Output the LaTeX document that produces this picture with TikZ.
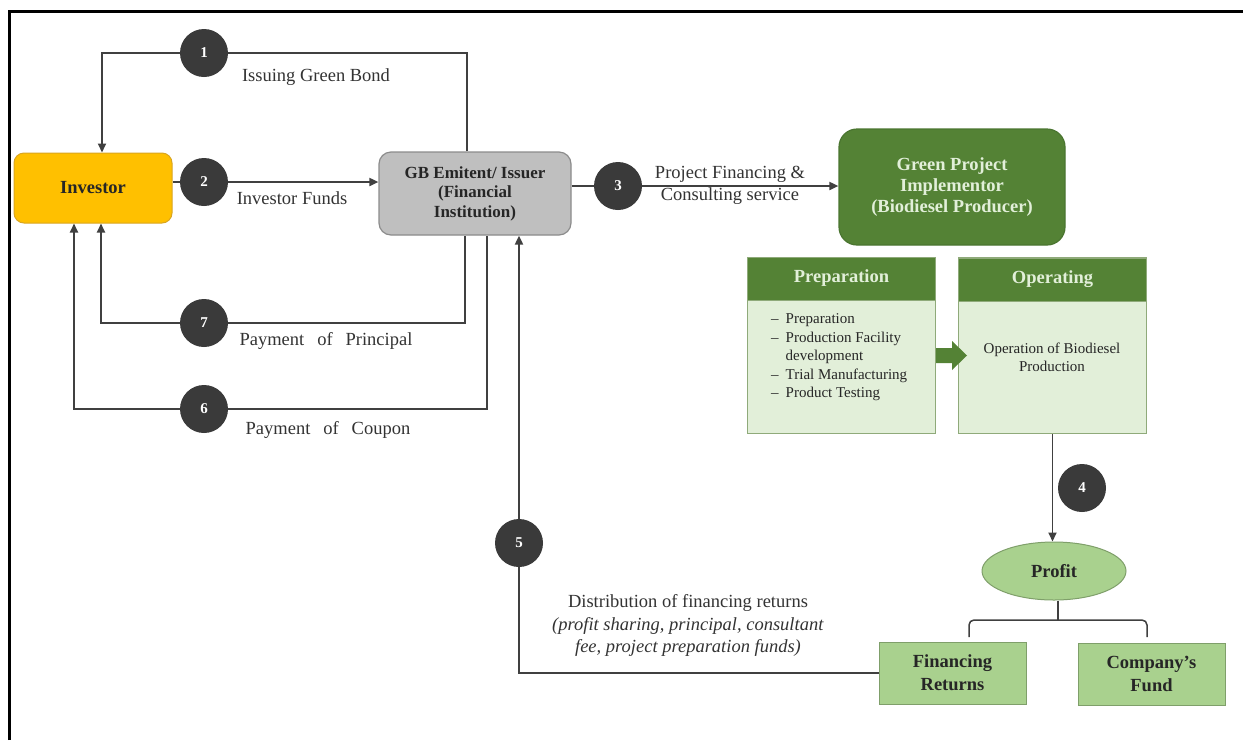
\documentclass[tikz,border=0pt]{standalone}
\usepackage{fontspec}
\setmainfont{Liberation Serif}
\usetikzlibrary{arrows.meta,backgrounds,calc,shapes.geometric}
\definecolor{gold}{HTML}{FFC000}
\definecolor{goldedge}{HTML}{D9A520}
\definecolor{issfill}{HTML}{BFBFBF}
\definecolor{issedge}{HTML}{8C8C8C}
\definecolor{dkgreen}{HTML}{548235}
\definecolor{dkgreenedge}{HTML}{4A7530}
\definecolor{ltgreen}{HTML}{E2EFD9}
\definecolor{ltgreenedge}{HTML}{8FAA7A}
\definecolor{midgreen}{HTML}{A9D18E}
\definecolor{midgreenedge}{HTML}{7F9F6A}
\definecolor{numgray}{HTML}{3A3A3A}
\definecolor{linegray}{HTML}{404040}
\definecolor{txtgray}{HTML}{333333}
\begin{document}
\begin{tikzpicture}[x=1pt,y=-1pt,
  lbl/.style={font=\fontsize{18.5}{22.5}\selectfont, text=txtgray, align=center, inner sep=0pt},
  num/.style={circle, fill=numgray, text=white, font=\bfseries\fontsize{15}{15}\selectfont, minimum size=48pt, inner sep=0pt},
  conn/.style={draw=linegray, line width=1.8pt},
  arr/.style={conn, -{Triangle[length=9pt,width=8pt]}},
  invbox/.style={rectangle, rounded corners=10pt, fill=gold, draw=goldedge, line width=1pt, minimum width=158pt, minimum height=70pt, inner sep=0pt, font=\bfseries\fontsize{18.5}{21}\selectfont, text=black!85},
  issbox/.style={rectangle, rounded corners=12pt, fill=issfill, draw=issedge, line width=1.2pt, minimum width=192pt, minimum height=83pt, inner sep=0pt, align=center, font=\bfseries\fontsize{17}{19.5}\selectfont, text=black!85},
  gpbox/.style={rectangle, rounded corners=18pt, fill=dkgreen, draw=dkgreenedge, line width=1.2pt, minimum width=226pt, minimum height=116pt, inner sep=0pt, align=center, font=\bfseries\fontsize{18.5}{21}\selectfont, text=ltgreen},
  bodybox/.style={rectangle, fill=ltgreen, draw=ltgreenedge, line width=1pt, minimum width=188pt, minimum height=176pt, inner sep=0pt},
  headbox/.style={rectangle, fill=dkgreen, draw=ltgreenedge, line width=1pt, minimum width=188pt, minimum height=43pt, inner sep=0pt, font=\bfseries\fontsize{18.5}{21}\selectfont, text=ltgreen},
  smalltxt/.style={font=\fontsize{15}{18.5}\selectfont, text=black!85, align=center, inner sep=0pt},
  resbox/.style={rectangle, fill=midgreen, draw=midgreenedge, line width=1pt, minimum width=147pt, minimum height=62pt, inner sep=0pt, align=center, font=\bfseries\fontsize{18.5}{23}\selectfont, text=black!85}
]
\useasboundingbox (0,0) rectangle (1243,740);
\begin{pgfonlayer}{background}
\fill[white] (0,0) rectangle (1243,740);
\end{pgfonlayer}
\draw[line width=3pt] (9.5,740) -- (9.5,11.5) -- (1243,11.5);

% main boxes
\node[invbox] (inv) at (93,188) {Investor};
\node[issbox] (iss) at (475,193.5) {GB Emitent/ Issuer\\(Financial\\Institution)};
\node[gpbox] (gp) at (952,187) {Green Project\\Implementor\\(Biodiesel Producer)};

% phase boxes
\node[bodybox] (prep) at (841.5,345) {};
\node[headbox] (preph) at (841.5,278.5) {Preparation};
\node[bodybox] (op) at (1052.5,345.5) {};
\node[headbox] (oph) at (1052.5,279.5) {Operating};
\node[smalltxt, anchor=west, align=left] (preptxt) at (771,357)
  {\begin{tabular}{@{}l@{\hspace{7pt}}l@{}}
   -- & Preparation\\
   -- & Production Facility\\
      & development\\
   -- & Trial Manufacturing\\
   -- & Product Testing
   \end{tabular}};
\node[smalltxt] (optxt) at (1052,357.5) {Operation of Biodiesel\\Production};
\fill[dkgreen] ($(prep.east)+(0,3)$) -- ++(16,0) -- ++(0,-7) -- ++(15,14.5) -- ++(-15,14.5) -- ++(0,-7) -- ++(-16,0) -- cycle;

% results
\node[ellipse, fill=midgreen, draw=midgreenedge, line width=1pt, minimum width=144pt, minimum height=58pt, inner sep=0pt, font=\bfseries\fontsize{18.5}{21}\selectfont, text=black!85] (profit) at (1054,571) {Profit};
\node[resbox] (fr) at (952.5,673) {Financing\\Returns};
\node[resbox] (cf) at (1151.5,674) {Company's\\Fund};

% numbered circles
\node[num] (n1) at (204,53) {1};
\node[num] (n2) at (204,182) {2};
\node[num] (n3) at (618,186) {3};
\node[num] (n4) at (1082,488) {4};
\node[num] (n5) at (519,543) {5};
\node[num] (n6) at (204,409) {6};
\node[num] (n7) at (204,323) {7};

% connectors on background layer (above the white fill)
\begin{pgfonlayer}{background}
\draw[arr] ([xshift=-8pt]iss.north) |- (n1.center) -| ([xshift=9pt]inv.north);
\draw[arr] (inv.east |- n2) -- (iss.west |- n2);
\draw[arr] (iss.east |- n3) -- (gp.west |- n3);
\draw[arr] ([xshift=-10pt]iss.south) |- (n7.center) -| ([xshift=8pt]inv.south);
\draw[arr] ([xshift=12pt]iss.south) |- (n6.center) -| ([xshift=-19pt]inv.south);
\draw[arr] (fr.west) -| ([xshift=44pt]iss.south);
\draw[arr] (op.south) -- (op.south |- profit.north);
\coordinate (bl) at (969,637);
\coordinate (br) at (1147,637);
\coordinate (bm) at (1058,620);
\draw[conn, line width=1.5pt, rounded corners=5pt] (bl) |- (bm) -| (br);
\draw[conn, line width=1.5pt] (profit.south -| bm) -- (bm);
\end{pgfonlayer}

% labels
\node[lbl] (l1) at (316,77) {Issuing Green Bond};
\node[lbl] (l2) at (292,198) {Investor Funds};
\node[lbl] (l3) at (730,185.5) {Project Financing \&\\Consulting service};
\node[lbl] (l7) at (326,341) {Payment\hspace{0.45em} of\hspace{0.45em} Principal};
\node[lbl] (l6) at (328,430) {Payment\hspace{0.45em} of\hspace{0.45em} Coupon};
\node[lbl] (l5) at (688,625.5) {Distribution of financing returns\\\textit{(profit sharing, principal, consultant}\\\textit{fee, project preparation funds)}};
\end{tikzpicture}
\end{document}
